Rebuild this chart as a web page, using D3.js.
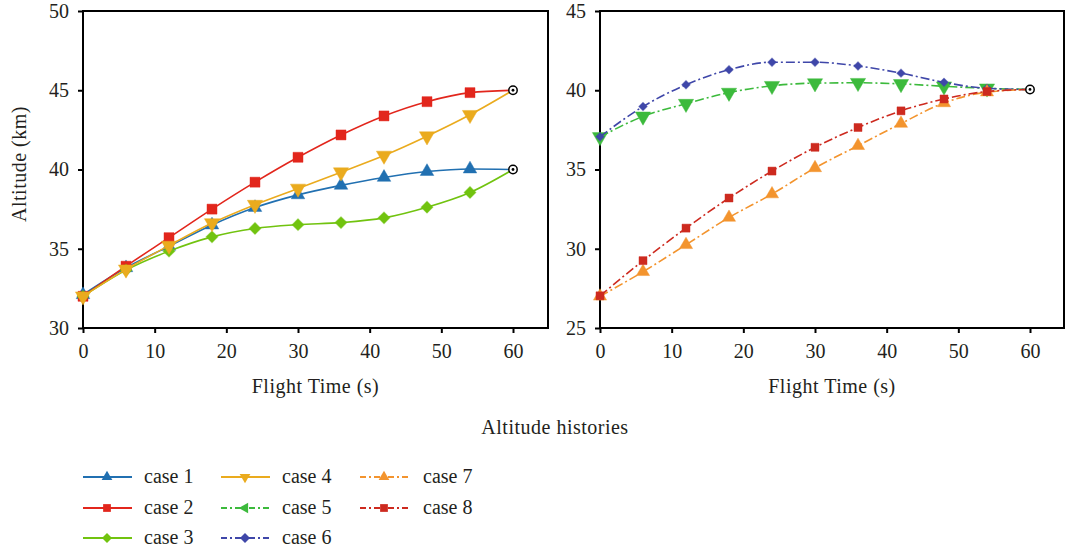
<!DOCTYPE html>
<html>
<head>
<meta charset="utf-8">
<script src="https://cdn.jsdelivr.net/npm/d3@7"></script>
<style>
  body { margin: 0; background: #fff; }
  text { font-family: "Liberation Serif", "DejaVu Serif", serif; fill: #231f20; }
</style>
</head>
<body>
<script>
// flight time samples (s)
var time = [0, 6, 12, 18, 24, 30, 36, 42, 48, 54, 60];

// left panel
var case1 = [32.1, 33.8, 35.15, 36.5, 37.6, 38.4, 39.0, 39.5, 39.87, 40.03, 40.0];
var case2 = [32.0, 33.9, 35.7, 37.5, 39.2, 40.77, 42.18, 43.38, 44.28, 44.85, 45.0];
var case3 = [32.0, 33.65, 34.85, 35.75, 36.28, 36.52, 36.65, 36.95, 37.62, 38.55, 40.0];
var case4 = [32.0, 33.7, 35.2, 36.62, 37.78, 38.8, 39.83, 40.88, 42.1, 43.45, 45.0];

// right panel
var case5 = [37.05, 38.35, 39.15, 39.85, 40.28, 40.45, 40.47, 40.4, 40.25, 40.12, 40.05];
var case6 = [37.07, 38.97, 40.35, 41.3, 41.77, 41.77, 41.53, 41.08, 40.5, 40.12, 40.05];
var case7 = [27.0, 28.55, 30.25, 31.97, 33.45, 35.1, 36.5, 37.9, 39.2, 39.88, 40.05];
var case8 = [27.03, 29.25, 31.3, 33.2, 34.9, 36.4, 37.65, 38.7, 39.45, 39.92, 40.05];

var xTicks = [0, 10, 20, 30, 40, 50, 60];
var yTicksLeft = [30, 35, 40, 45, 50];
var yTicksRight = [25, 30, 35, 40, 45];

var svg = d3.select("body").append("svg").attr("width", 1065).attr("height", 555);

var dashDot = "9,3,2,3";

var series = [
  {name: "case 1", data: case1, panel: 0, color: "#2170b1", shape: "up", size: 80, dash: null},
  {name: "case 2", data: case2, panel: 0, color: "#e2261c", shape: "square", size: 100, dash: null},
  {name: "case 3", data: case3, panel: 0, color: "#71c30f", shape: "diamond", size: 70, dash: null},
  {name: "case 4", data: case4, panel: 0, color: "#eaab1e", shape: "down", size: 100, dash: null},
  {name: "case 5", data: case5, panel: 1, color: "#3cba3c", shape: "down", size: 100, dash: dashDot, legendShape: "left"},
  {name: "case 6", data: case6, panel: 1, color: "#3f47a9", shape: "diamond", size: 36, dash: dashDot},
  {name: "case 7", data: case7, panel: 1, color: "#f3942e", shape: "up", size: 75, dash: dashDot},
  {name: "case 8", data: case8, panel: 1, color: "#cd2a1f", shape: "square", size: 64, dash: dashDot}
];

var panels = [
  {x: d3.scaleLinear().domain([0, 60]).range([83, 513]), y: d3.scaleLinear().domain([30, 50]).range([328, 11]),
   right: 548, yTicks: yTicksLeft},
  {x: d3.scaleLinear().domain([0, 60]).range([600, 1030]), y: d3.scaleLinear().domain([25, 45]).range([328, 11]),
   right: 1064, yTicks: yTicksRight}
];

function symbolPath(shape, size) {
  if (shape === "square") return {d: d3.symbol(d3.symbolSquare, size)(), rot: 0};
  if (shape === "diamond") return {d: d3.symbol(d3.symbolSquare, size)(), rot: 45};
  if (shape === "up") return {d: d3.symbol(d3.symbolTriangle, size)(), rot: 0};
  if (shape === "down") return {d: d3.symbol(d3.symbolTriangle, size)(), rot: 180};
  if (shape === "left") return {d: d3.symbol(d3.symbolTriangle, size)(), rot: -90};
}

panels.forEach(function(p, i) {
  var g = svg.append("g");
  var x0 = p.x.range()[0], yTop = p.y.range()[1], yBot = p.y.range()[0];

  // frame
  g.append("rect").attr("x", x0).attr("y", yTop)
    .attr("width", p.right - x0).attr("height", yBot - yTop)
    .attr("fill", "none").attr("stroke", "#000").attr("stroke-width", 2);

  var xAxis = g.append("g").attr("transform", "translate(0," + yBot + ")")
    .call(d3.axisBottom(p.x).tickValues(xTicks).tickSize(5).tickPadding(11));
  var yAxis = g.append("g").attr("transform", "translate(" + x0 + ",0)")
    .call(d3.axisLeft(p.y).tickValues(p.yTicks).tickSize(5).tickPadding(9));
  [xAxis, yAxis].forEach(function(a) {
    a.select(".domain").remove();
    a.selectAll("line").attr("stroke", "#000").attr("stroke-width", 2);
    a.selectAll("text").attr("font-size", 20).style("font-family", "Liberation Serif, serif").attr("fill", "#231f20");
  });

  g.append("text").attr("x", (x0 + p.right) / 2).attr("y", 393)
    .attr("text-anchor", "middle").attr("font-size", 20).attr("letter-spacing", 0.5).text("Flight Time (s)");

  var line = d3.line().curve(d3.curveMonotoneX)
    .x(function(d, k) { return p.x(time[k]); })
    .y(function(d) { return p.y(d); });

  series.filter(function(s) { return s.panel === i; }).forEach(function(s) {
    g.append("path").datum(s.data).attr("d", line)
      .attr("fill", "none").attr("stroke", s.color).attr("stroke-width", 1.6)
      .attr("stroke-dasharray", s.dash);
    var sym = symbolPath(s.shape, s.size);
    g.selectAll(null).data(s.data.slice(0, -1)).enter().append("path")
      .attr("d", sym.d)
      .attr("transform", function(d, k) {
        return "translate(" + p.x(time[k]) + "," + p.y(d) + ") rotate(" + sym.rot + ")";
      })
      .attr("fill", s.color).attr("stroke", s.color).attr("stroke-opacity", 0.45).attr("stroke-width", 1);
  });

  // terminal markers
  var ends = series.filter(function(s) { return s.panel === i; }).map(function(s) { return s.data[s.data.length - 1]; });
  ends = Array.from(new Set(ends.map(function(v) { return v.toFixed(2); }))).map(Number);
  ends.forEach(function(v) {
    g.append("circle").attr("cx", p.x(60)).attr("cy", p.y(v)).attr("r", 4.2)
      .attr("fill", "#fff").attr("stroke", "#000").attr("stroke-width", 1.5);
    g.append("circle").attr("cx", p.x(60)).attr("cy", p.y(v)).attr("r", 1.4).attr("fill", "#000");
  });
});

svg.append("text").attr("transform", "translate(26,164) rotate(-90)")
  .attr("text-anchor", "middle").attr("font-size", 20).attr("letter-spacing", 0.5).text("Altitude (km)");

svg.append("text").attr("x", 555).attr("y", 434).attr("text-anchor", "middle")
  .attr("font-size", 20).attr("letter-spacing", 0.5).text("Altitude histories");

// legend
var legCols = [83, 221, 360];
var legRows = [477, 508, 538];
series.forEach(function(s, k) {
  var col = Math.floor(k / 3), row = k % 3;
  var lx = legCols[col], ly = legRows[row];
  var g = svg.append("g");
  g.append("line").attr("x1", lx).attr("x2", lx + 49).attr("y1", ly).attr("y2", ly)
    .attr("stroke", s.color).attr("stroke-width", 2).attr("stroke-dasharray", s.dash ? "6,3,2,3" : null);
  var sym = symbolPath(s.legendShape || s.shape, s.shape === "square" ? 60 : 50);
  g.append("path").attr("d", sym.d)
    .attr("transform", "translate(" + (lx + 24) + "," + ly + ") rotate(" + sym.rot + ")")
    .attr("fill", s.color);
  g.append("text").attr("x", lx + (col === 2 ? 63 : 61)).attr("y", ly + 6)
    .attr("font-size", 20).text(s.name);
});
</script>
</body>
</html>
